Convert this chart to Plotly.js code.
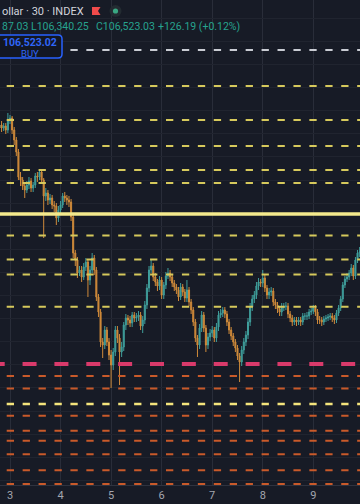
<!DOCTYPE html>
<html>
<head>
<meta charset="utf-8">
<script src="https://cdn.plot.ly/plotly-3.0.1.min.js"></script>
<style>
  html, body { margin: 0; padding: 0; background: #171b26; }
  #chart { width: 360px; height: 504px; }
</style>
</head>
<body>
<div id="chart"></div>
<script>
// ---------- DATA (hourly candles) ----------
const firstCandle = '2025-06-02T19:00:00Z';

const opens = [105743,105773,105743,105763,105723,105823,105843,105723,105623,105503,
105253,105223,105163,105123,105173,105213,105143,105173,105263,105253,
105303,105223,105063,105093,105023,105043,104973,104963,104843,104923,
104973,105063,105043,105023,105003,104853,104493,104423,104293,104323,
104253,104353,104403,104223,104323,104443,104323,104053,103903,103603,
103573,103723,103603,103473,103373,103503,103723,103643,103503,103553,
103773,103843,103823,103793,103873,103843,103853,103873,103763,103823,
103973,104143,104323,104363,104253,104203,104163,104223,104073,104173,
104263,104293,104253,104193,104153,104123,104053,104153,104103,104043,
104123,104003,103923,103803,103643,103573,103743,103873,103743,103573,
103653,103693,103723,103643,103753,103873,103893,103923,103883,103803,
103723,103663,103603,103543,103463,103403,103523,103603,103673,103803,
103953,104033,104073,104163,104203,104193,104243,104143,104073,104103,
104113,104003,103973,103933,103903,103953,103953,103963,103883,103843,
103803,103823,103803,103823,103803,103863,103863,103863,103903,103913,
103943,103903,103823,103823,103803,103833,103843,103853,103863,103843,
103823,103893,103943,104033,104173,104233,104253,104293,104343,104263,
104423,104493];

const highs = [105803,105813,105793,105793,105893,105873,105863,105753,105653,105533,
105303,105253,105193,105213,105253,105243,105203,105293,105303,105323,
105323,105243,105143,105123,105083,105073,105013,104993,104963,105013,
105093,105103,105073,105063,105033,104883,104523,104453,104363,104363,
104393,104443,104433,104363,104493,104473,104353,104083,103933,103643,
103763,103753,103643,103523,103543,103763,103763,103683,103603,103803,
103883,103873,103863,103903,103903,103893,103913,103903,103863,104013,
104183,104363,104423,104393,104293,104233,104263,104253,104203,104303,
104343,104323,104283,104223,104183,104153,104193,104183,104133,104223,
104153,104033,103953,103833,103673,103783,103913,103903,103773,103693,
103733,103763,103753,103793,103913,103933,103953,103953,103913,103833,
103753,103693,103633,103573,103493,103563,103643,103713,103843,103993,
104073,104113,104203,104243,104233,104323,104273,104173,104143,104153,
104143,104033,104003,103963,103993,103993,104003,103993,103913,103873,
103853,103853,103853,103853,103893,103893,103903,103933,103943,103973,
103973,103933,103863,103853,103863,103873,103883,103893,103893,103873,
103923,103973,104063,104203,104263,104293,104323,104383,104373,104453,
104523,104553];

const lows = [105713,105703,105713,105683,105693,105783,105683,105573,105463,105223,
105163,105123,105043,105093,105133,105103,105103,105143,105203,105223,
105183,104643,105013,104973,104983,104933,104903,104773,104803,104883,
104943,105003,104973,104953,104813,104443,104363,104243,104263,104203,
104223,104313,104053,104173,104293,104273,104013,103853,103553,103443,
103533,103563,103423,103143,103323,103463,103593,103173,103453,103513,
103723,103773,103753,103753,103803,103803,103813,103723,103693,103783,
103933,104103,104293,104213,104163,104113,104123,104033,104033,104133,
104233,104213,104153,104113,104083,104013,104023,104063,104003,104003,
103963,103883,103763,103603,103453,103533,103703,103703,103503,103533,
103613,103653,103603,103603,103713,103843,103853,103843,103763,103683,
103623,103563,103503,103423,103203,103363,103483,103563,103633,103763,
103913,103993,104033,104123,104153,104153,104103,104033,104033,104063,
103963,103933,103893,103863,103863,103913,103923,103843,103803,103763,
103773,103763,103773,103763,103773,103823,103823,103833,103873,103883,
103863,103783,103783,103763,103773,103803,103813,103823,103803,103783,
103793,103863,103913,104003,104143,104203,104223,104263,104223,104233,
104393,104453];

const closes = [105773,105743,105763,105723,105823,105843,105723,105623,105503,105253,
105223,105163,105123,105173,105213,105143,105173,105263,105253,105303,
105223,105063,105093,105023,105043,104973,104963,104843,104923,104973,
105063,105043,105023,105003,104853,104493,104423,104293,104323,104253,
104353,104403,104223,104323,104443,104323,104053,103903,103603,103573,
103723,103603,103473,103373,103503,103723,103643,103503,103553,103773,
103843,103823,103793,103873,103843,103853,103873,103763,103823,103973,
104143,104323,104363,104253,104203,104163,104223,104073,104173,104263,
104293,104253,104193,104153,104123,104053,104153,104103,104043,104123,
104003,103923,103803,103643,103573,103743,103873,103743,103573,103653,
103693,103723,103643,103753,103873,103893,103923,103883,103803,103723,
103663,103603,103543,103463,103403,103523,103603,103673,103803,103953,
104033,104073,104163,104203,104193,104243,104143,104073,104103,104113,
104003,103973,103933,103903,103953,103953,103963,103883,103843,103803,
103823,103803,103823,103803,103863,103863,103863,103903,103913,103943,
103903,103823,103823,103803,103833,103843,103853,103863,103843,103823,
103893,103943,104033,104173,104233,104253,104293,104343,104263,104423,
104493,104503];

// horizontal levels (prices)
const currentPrice = 106523;
const upperLevels = [106163, 105823, 105563, 105323, 105193, 104668, 104428, 104278, 103956];
const pivotLevel = 104883;
const pinkLevel = 103383;
const brightLevels = [102983];
const orangeLevels = [103263, 103138, 102866, 102716, 102616, 102480, 102320, 102183];

// header texts (the visible part of the legend)
const symbolText = 'ollar · 30 · INDEX';
const highText = '87.03';
const lowText = 'L106,340.25';
const closeText = 'C106,523.03';
const changeText = '+126.19 (+0.12%)';
const buyPriceText = '106,523.02';
const buyText = 'BUY';

// ---------- BUILD ----------
const W = 360, PH = 485;
const t0 = Date.parse(firstCandle);
const times = closes.map((_, i) => new Date(t0 + i * 3600000).toISOString().slice(0, 16).replace('T', ' '));

const px = v => v / W;          // pixel x -> paper
const py = v => 1 - v / PH;     // pixel y -> paper

const trace = {
  type: 'candlestick',
  x: times, open: opens, high: highs, low: lows, close: closes,
  increasing: { line: { color: '#3f9e9b', width: 1 }, fillcolor: '#3f9e9b' },
  decreasing: { line: { color: '#cf8a3a', width: 1 }, fillcolor: '#cf8a3a' },
  whiskerwidth: 0,
  hoverinfo: 'skip',
  showlegend: false
};

const DASH = '7.3px,8.63px';
function hline(p, color, width, dash, startPx) {
  return { type: 'line', xref: 'paper', yref: 'y', x0: px(startPx), x1: 1.02, y0: p, y1: p,
           line: { color: color, width: width, dash: dash }, layer: 'above' };
}
const shapes = [];
upperLevels.forEach(p => shapes.push(hline(p, '#d6c95c', 2, DASH, 6.7)));
shapes.push(hline(pivotLevel, '#f3e98c', 3.5, 'solid', -2));
shapes.push(hline(pinkLevel, '#d93a6b', 4, '14px,17.86px', -9.3));
orangeLevels.forEach(p => shapes.push(hline(p, '#c95a2a', 2, DASH, 6.7)));
brightLevels.forEach(p => shapes.push(hline(p, '#f4e47c', 2.5, DASH, 6.7)));
shapes.push(hline(currentPrice, '#c9ccd3', 2, DASH, 6.7));

// BUY box (rounded rect)
const bw = 33, bh = 11.5, r = 4;
shapes.push({
  type: 'path', xref: 'paper', yref: 'paper', xsizemode: 'pixel', ysizemode: 'pixel',
  xanchor: px(29), yanchor: py(46.5),
  path: `M ${-bw + r},${bh} L ${bw - r},${bh} Q ${bw},${bh} ${bw},${bh - r} L ${bw},${-bh + r} Q ${bw},${-bh} ${bw - r},${-bh} L ${-bw + r},${-bh} Q ${-bw},${-bh} ${-bw},${-bh + r} L ${-bw},${bh - r} Q ${-bw},${bh} ${-bw + r},${bh} Z`,
  fillcolor: '#131722', line: { color: '#2962ff', width: 1.5 }, layer: 'above'
});
// red flag
shapes.push({
  type: 'path', xref: 'paper', yref: 'paper', xsizemode: 'pixel', ysizemode: 'pixel',
  xanchor: px(92), yanchor: py(7),
  path: 'M 0,0 L 8.5,0 L 6,-4 L 8.5,-8 L 0,-8 Z',
  fillcolor: '#f04b4b', line: { width: 0 }, layer: 'above'
});
// status dot with halo
shapes.push({
  type: 'circle', xref: 'paper', yref: 'paper', xsizemode: 'pixel', ysizemode: 'pixel',
  xanchor: px(115.5), yanchor: py(11), x0: -6, x1: 6, y0: -6, y1: 6,
  fillcolor: '#232b31', line: { width: 0 }, layer: 'above'
});
shapes.push({
  type: 'circle', xref: 'paper', yref: 'paper', xsizemode: 'pixel', ysizemode: 'pixel',
  xanchor: px(115.5), yanchor: py(11), x0: -2.6, x1: 2.6, y0: -2.6, y1: 2.6,
  fillcolor: '#3aa883', line: { width: 0 }, layer: 'above'
});

const FONT = 'Roboto, "Noto Sans", sans-serif';
const TEAL = '#26a38f';
function ann(text, x, y, anchor, size, color, extra) {
  return Object.assign({ text: text, xref: 'paper', yref: 'paper', x: px(x), y: py(y),
    xanchor: anchor, yanchor: 'middle', showarrow: false, borderpad: 0,
    font: { family: FONT, size: size, color: color } }, extra || {});
}
const annotations = [
  ann(symbolText, 0.5, 11, 'left', 11, '#d1d4dc'),
  ann(highText, 0.5, 26, 'left', 10.5, TEAL),
  ann(lowText, 30, 26, 'left', 10.5, TEAL),
  ann(closeText, 94.5, 26, 'left', 10.5, TEAL),
  ann(changeText, 156.5, 26, 'left', 10.5, TEAL),
  ann('<b>' + buyPriceText + '</b>', 29.5, 42.3, 'center', 10.5, '#2f66f6', { height: 9 }),
  ann(buyText, 29.5, 52.5, 'center', 9.5, '#2f66f6', { height: 8 })
];

const layout = {
  width: 360, height: 504, autosize: false,
  margin: { l: 0, r: 0, t: 0, b: 19, pad: 0 },
  paper_bgcolor: '#171b26', plot_bgcolor: '#171b26',
  showlegend: false,
  xaxis: {
    type: 'date',
    range: ['2025-06-02 19:15:10', '2025-06-09 22:10'],
    rangeslider: { visible: false },
    tick0: '2025-06-03', dtick: 86400000, tickformat: '%-d',
    ticks: '', showgrid: true, gridcolor: '#292d39', gridwidth: 1,
    showline: true, linecolor: '#2f333f', linewidth: 1, zeroline: false,
    tickfont: { family: FONT, size: 11, color: '#a3a6af' },
    fixedrange: true
  },
  yaxis: {
    range: [102173, 107023], showticklabels: false, ticks: '',
    tick0: 102913, dtick: 231, showgrid: true, gridcolor: '#20242f', gridwidth: 1,
    zeroline: false, showline: false, fixedrange: true
  },
  shapes: shapes,
  annotations: annotations
};

Plotly.newPlot('chart', [trace], layout, { displayModeBar: false, staticPlot: true });
</script>
</body>
</html>
